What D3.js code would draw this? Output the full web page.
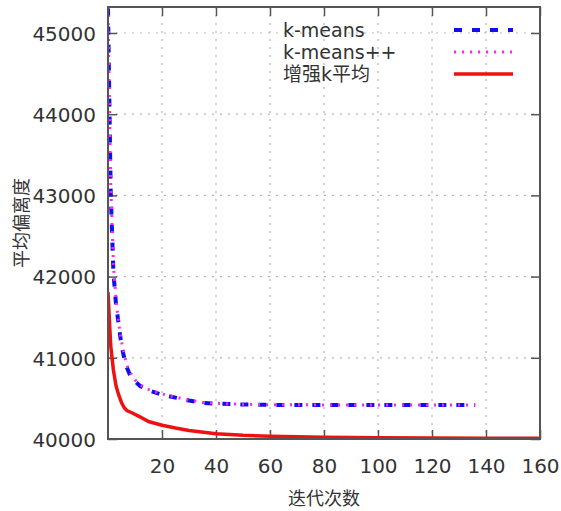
<!DOCTYPE html>
<html>
<head>
<meta charset="utf-8">
<script src="https://cdn.jsdelivr.net/npm/d3@7"></script>
<style>
  body { margin: 0; background: #fff; }
  text { font-family: "DejaVu Sans", "Noto Sans CJK SC", sans-serif; fill: #333; }
</style>
</head>
<body>
<div id="chart"></div>
<script>
// iterations and mean values
var kmIter   = [0, 1, 2, 3, 4, 5, 6, 7, 8, 10, 12, 15, 20, 25, 30, 35, 40, 50, 60, 80, 100, 120, 136];
var kmVals   = [45300, 43050, 42050, 41650, 41400, 41150, 41000, 40880, 40800, 40710, 40650, 40600, 40545, 40510, 40475, 40445, 40435, 40425, 40420, 40420, 40418, 40418, 40418];
var kmppIter = [0, 1, 2, 3, 4, 5, 6, 7, 8, 10, 12, 15, 20, 25, 30, 35, 40, 50, 60, 80, 100, 120, 136];
var kmppVals = [45320, 43150, 42150, 41700, 41420, 41200, 41040, 40910, 40830, 40730, 40665, 40610, 40555, 40515, 40480, 40450, 40440, 40428, 40422, 40420, 40420, 40420, 40420];
var ekIter   = [0, 1, 2, 3, 4, 5, 6, 7, 9, 12, 15, 20, 25, 30, 40, 50, 60, 80, 100, 120, 140, 160];
var ekVals   = [41810, 41150, 40850, 40650, 40540, 40450, 40385, 40350, 40320, 40270, 40215, 40170, 40135, 40105, 40065, 40045, 40035, 40022, 40015, 40012, 40010, 40008];

var xTicks = [20, 40, 60, 80, 100, 120, 140, 160];
var yTicks = [40000, 41000, 42000, 43000, 44000, 45000];
var seriesNames = ["k-means", "k-means++", "增强k平均"];

var width = 561, height = 511;
var margin = {left: 108, top: 7, right: 21, bottom: 72};
var w = width - margin.left - margin.right,
    h = height - margin.top - margin.bottom;

var svg = d3.select("#chart").append("svg")
  .attr("width", width)
  .attr("height", height);

var g = svg.append("g")
  .attr("transform", "translate(" + margin.left + "," + margin.top + ")");

var x = d3.scaleLinear().domain([0, 160]).range([0, w]);
var y = d3.scaleLinear().domain([40000, 45320]).range([h, 0]);

// grid
g.selectAll(".hgrid").data(yTicks.slice(1))
  .enter().append("line")
  .attr("x1", 0).attr("x2", w)
  .attr("y1", function(d) { return y(d); }).attr("y2", function(d) { return y(d); })
  .attr("stroke", "#b5b5b5").attr("stroke-width", 1.2).attr("stroke-dasharray", "2,6");

g.selectAll(".vgrid").data(xTicks.slice(0, -1))
  .enter().append("line")
  .attr("y1", 0).attr("y2", h)
  .attr("x1", function(d) { return x(d); }).attr("x2", function(d) { return x(d); })
  .attr("stroke", "#b5b5b5").attr("stroke-width", 1.2).attr("stroke-dasharray", "2,6");

// axes with inward ticks
var xAxis = d3.axisBottom(x).tickValues(xTicks).tickSizeInner(-9).tickSizeOuter(0).tickPadding(20).tickFormat(d3.format("d"));
var yAxis = d3.axisLeft(y).tickValues(yTicks).tickSizeInner(-9).tickSizeOuter(0).tickPadding(12).tickFormat(d3.format("d"));

var gx = g.append("g").attr("transform", "translate(0," + h + ")").call(xAxis);
var gy = g.append("g").call(yAxis);
g.append("g").call(d3.axisTop(x).tickValues(xTicks).tickSizeInner(-9).tickSizeOuter(0).tickFormat(""));
g.append("g").attr("transform", "translate(" + w + ",0)")
  .call(d3.axisRight(y).tickValues(yTicks).tickSizeInner(-9).tickSizeOuter(0).tickFormat(""));

g.selectAll(".domain").remove();
g.selectAll(".tick line").attr("stroke", "#555").attr("stroke-width", 1.5);
gx.selectAll("text").style("font-size", "20px").attr("fill", "#333");
gy.selectAll("text").style("font-size", "20px").attr("fill", "#333").attr("dy", "0.36em");

// plot lines
g.append("clipPath").attr("id", "clip")
  .append("rect").attr("width", w).attr("height", h);

var line = d3.line()
  .x(function(d) { return x(d[0]); })
  .y(function(d) { return y(d[1]); });

var series = [
  {iter: kmIter, vals: kmVals, color: "#1010ee", width: 4, dash: "8,10"},
  {iter: kmppIter, vals: kmppVals, color: "#ff22ff", width: 3, dash: "2,6"},
  {iter: ekIter, vals: ekVals, color: "#ee1111", width: 3.5, dash: null}
];

series.forEach(function(s) {
  var pts = s.iter.map(function(it, i) { return [it, s.vals[i]]; });
  g.append("path")
    .attr("clip-path", "url(#clip)")
    .attr("d", line(pts))
    .attr("fill", "none")
    .attr("stroke", s.color)
    .attr("stroke-width", s.width)
    .attr("stroke-dasharray", s.dash);
});

// border
g.append("rect").attr("width", w).attr("height", h)
  .attr("fill", "none").attr("stroke", "#555").attr("stroke-width", 2);

// legend
var leg = g.append("g");
series.forEach(function(s, i) {
  var ly = 23 + i * 22;
  leg.append("text")
    .attr("x", 283 - margin.left).attr("y", ly).attr("dy", "0.36em")
    .style("font-size", "19px")
    .text(seriesNames[i]);
  leg.append("line")
    .attr("x1", 454 - margin.left).attr("x2", 513 - margin.left)
    .attr("y1", ly).attr("y2", ly)
    .attr("stroke", s.color)
    .attr("stroke-width", s.width)
    .attr("stroke-dasharray", s.dash);
});

// axis titles
svg.append("text")
  .attr("x", 324).attr("y", 505)
  .attr("text-anchor", "middle")
  .style("font-size", "18px")
  .text("迭代次数");

svg.append("text")
  .attr("transform", "translate(28,223) rotate(-90)")
  .attr("text-anchor", "middle")
  .style("font-size", "18px")
  .text("平均偏离度");
</script>
</body>
</html>
